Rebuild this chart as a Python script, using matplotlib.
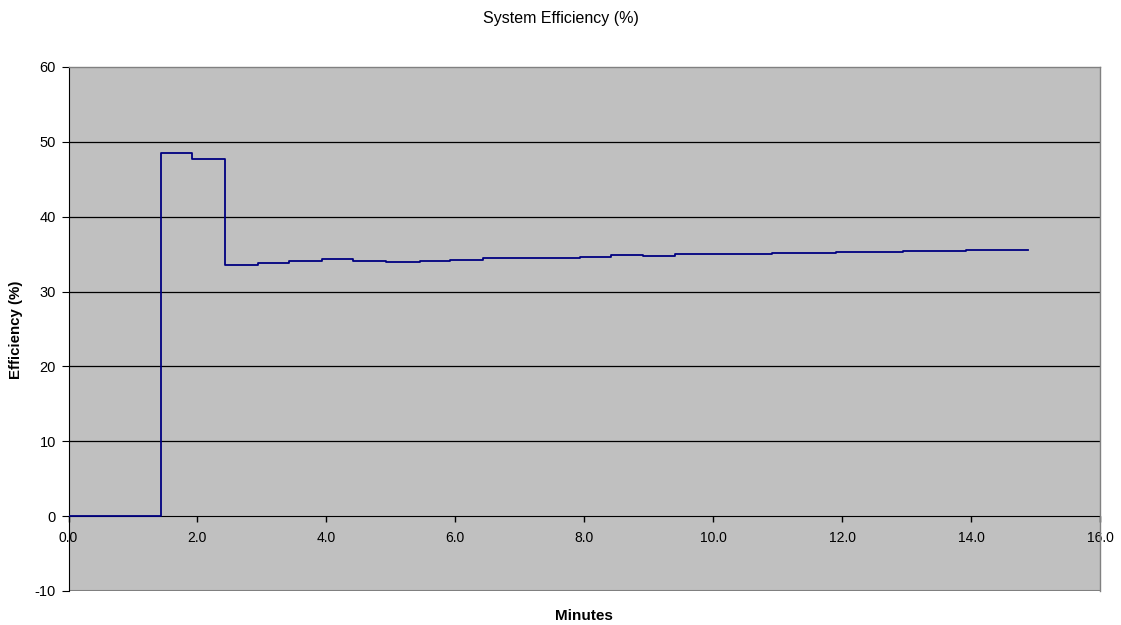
import matplotlib
matplotlib.use("Agg")
import matplotlib.pyplot as plt

# Step-change times (minutes) and efficiency levels (%)
times = [0.0, 1.43, 1.92, 2.43, 2.94, 3.42, 3.93, 4.42, 4.92, 5.45, 5.92, 6.43,
         7.93, 8.41, 8.91, 9.41, 10.43, 10.92, 11.41, 11.90, 12.43, 12.95, 13.41,
         13.92, 14.88]
efficiency = [0.0, 48.5, 47.7, 33.6, 33.8, 34.05, 34.3, 34.15, 33.9, 34.1, 34.2,
              34.45, 34.6, 34.85, 34.8, 35.0, 35.05, 35.15, 35.15, 35.25, 35.35,
              35.4, 35.45, 35.5, 35.5]

x_ticks = [0, 2, 4, 6, 8, 10, 12, 14, 16]
y_ticks = [-10, 0, 10, 20, 30, 40, 50, 60]

plt.rcParams['font.family'] = ['Liberation Sans', 'DejaVu Sans']

fig = plt.figure(figsize=(11.21, 6.25), dpi=100)
ax = fig.add_axes([68.5 / 1121, 1 - 591 / 625, (1100 - 68.5) / 1121, (591 - 67) / 625])
ax.set_facecolor('#C0C0C0')

ax.plot(times, efficiency, drawstyle='steps-post', color='#000080', lw=1.3, zorder=3)

ax.set_xlim(0, 16)
ax.set_ylim(-10, 60)
ax.set_xticks(x_ticks)
ax.set_xticklabels([f"{v:.1f}" for v in x_ticks], fontsize=11)
ax.set_yticks(y_ticks)
ax.set_yticklabels([str(v) for v in y_ticks], fontsize=10.5)

for y in [10, 20, 30, 40, 50]:
    ax.axhline(y, color='black', lw=0.9, zorder=1)

for s in ['top', 'right']:
    ax.spines[s].set_color('#808080')
    ax.spines[s].set_linewidth(1)
ax.spines['left'].set_color('black')
ax.spines['bottom'].set_position(('data', 0))
ax.spines['bottom'].set_color('black')
ax.spines['bottom'].set_zorder(2)
ax.axhline(-10, color='#808080', lw=1.5, zorder=2)

ax.tick_params(axis='x', direction='out', length=4.5, pad=6, width=1)
ax.tick_params(axis='y', direction='out', length=5, pad=4)

fig.text(0.5, 1 - 18 / 625, 'System Efficiency (%)', fontsize=11.5,
         ha='center', va='center')
fig.text((68.5 + 1100) / 2 / 1121, 1 - 616 / 625, 'Minutes', fontsize=11,
         fontweight='bold', ha='center', va='center')
fig.text(16 / 1121, 1 - 330 / 625, 'Efficiency (%)', fontsize=10.8,
         fontweight='bold', ha='center', va='center', rotation=90)

fig.savefig('out.png', dpi=100)
